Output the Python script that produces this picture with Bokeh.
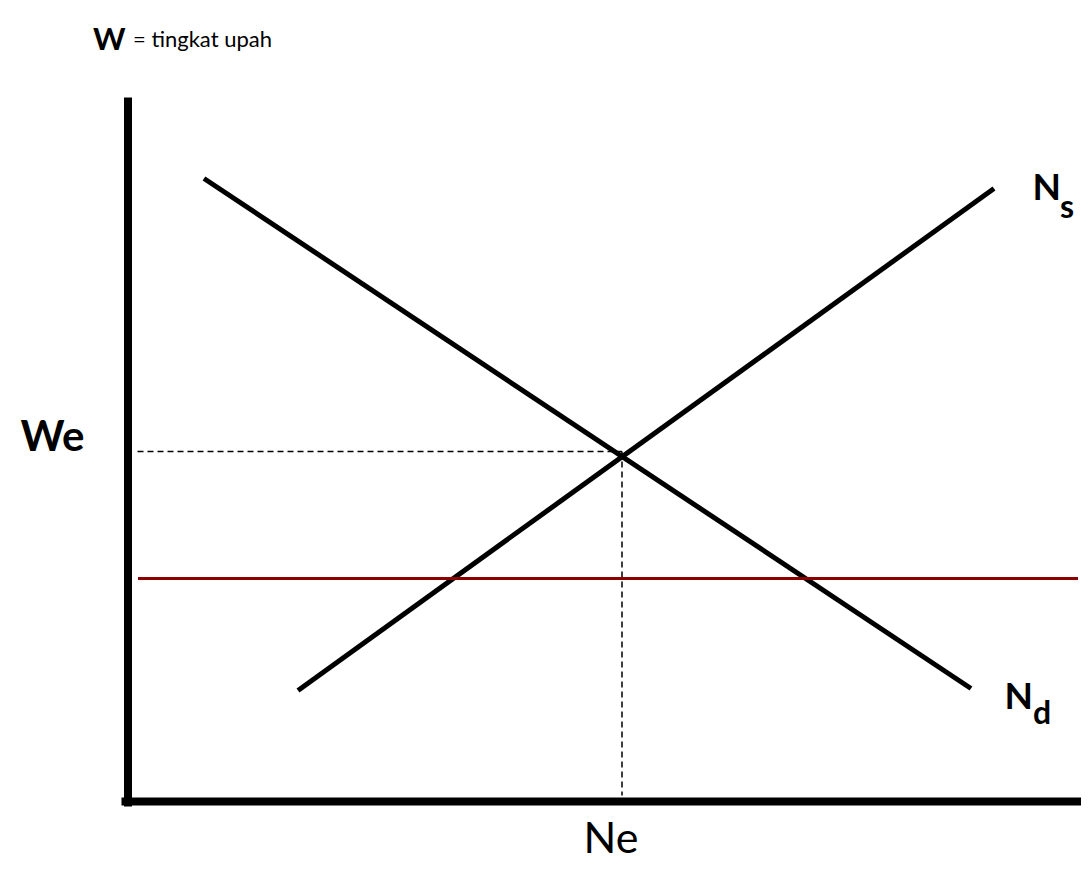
from bokeh.plotting import figure
from bokeh.models import Range1d
from bokeh.core.properties import value
from bokeh.embed import file_html
from bokeh.resources import INLINE

# ---- data (arbitrary units: N = employment, W = wage) ----
nd_N = [0.76, 8.43]          # labour demand
nd_W = [6.23, 1.13]
ns_N = [1.70, 8.66]          # labour supply
ns_W = [1.11, 6.13]
min_wage_N = [0.10, 9.50]    # minimum wage line
min_wage_W = [2.23, 2.23]
Ne = 4.94                    # equilibrium employment
We = 3.50                    # equilibrium wage
axis_W_top = 7.04
axis_N_right = 9.70

FONT = value("Lato")

p = figure(width=1081, height=871,
           x_range=Range1d(-1.275, 9.535), y_range=Range1d(-0.70, 8.01),
           output_backend="svg", toolbar_location=None, min_border=0)
p.axis.visible = False
p.grid.visible = False
p.outline_line_color = None
p.background_fill_color = "white"

# axes
p.line([0, 0], [-0.05, axis_W_top], line_width=8, line_color="black")
p.line([-0.065, axis_N_right], [0, 0], line_width=8, line_color="black")

# dashed guides to equilibrium
p.line([0.095, Ne], [We, We], line_width=1.5, line_color="black", line_dash="6 4")
p.line([Ne, Ne], [We, 0.06], line_width=1.5, line_color="black", line_dash="6 4")

# curves
p.line(nd_N, nd_W, line_width=5, line_color="black")
p.line(ns_N, ns_W, line_width=5, line_color="black")
p.line(min_wage_N, min_wage_W, line_width=3, line_color="#8B0000")

# texts
def txt(x, y, t, size, style="normal", align="left"):
    p.text(x=[x], y=[y], text=[t], text_font=FONT, text_font_size=f"{size}px",
           text_font_style=style, text_align=align, text_baseline="alphabetic",
           text_color="black")

dy = 0.14
txt(-0.35, 7.50 + dy, "W", 31, "bold")
txt(0.05, 7.49 + dy, "= tingkat upah", 22)
txt(-1.075, 3.53 + dy, "We", 42, "bold")
txt(9.045, 6.02 + dy, "N", 37, "bold")
txt(9.32, 5.82 + dy, "s", 32, "bold")
txt(8.765, 0.93 + dy, "N", 37, "bold")
txt(9.05, 0.76 + dy, "d", 32, "bold")
txt(Ne - 0.11, -0.49 + dy, "Ne", 43, "normal", "center")

open("out.html", "w").write(file_html(p, INLINE))
